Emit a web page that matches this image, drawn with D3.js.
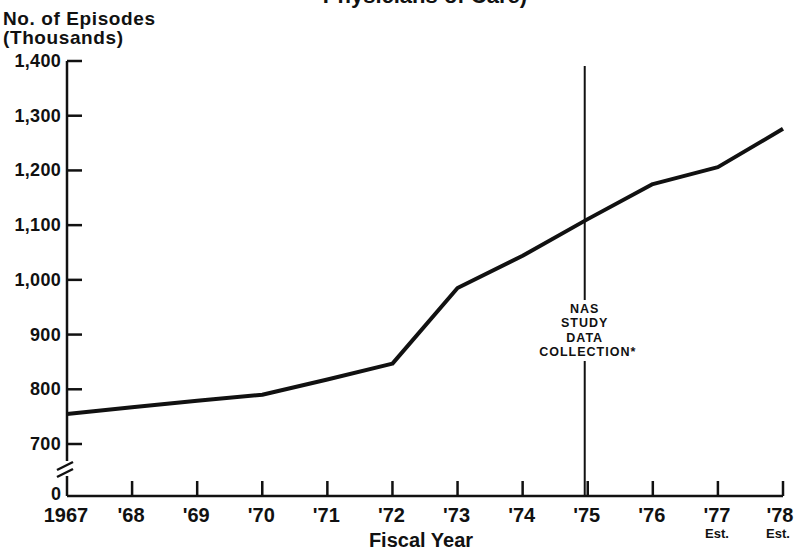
<!DOCTYPE html>
<html>
<head>
<meta charset="utf-8">
<script src="https://cdn.jsdelivr.net/npm/d3@7"></script>
<style>
  body { margin: 0; background: #fff; }
  svg { display: block; }
  text { font-family: "Liberation Sans", Arial, Helvetica, sans-serif; font-weight: bold; fill: #111; }
</style>
</head>
<body>
<div id="chart"></div>
<script>
// Episodes per fiscal year (thousands)
const years = [1967, 1968, 1969, 1970, 1971, 1972, 1973, 1974, 1975, 1976, 1977, 1978];
const episodes = [755, 767, 779, 790, 818, 847, 985, 1044, 1111, 1175, 1206, 1276];
const yearLabels = ['1967', "'68", "'69", "'70", "'71", "'72", "'73", "'74", "'75", "'76", "'77", "'78"];
const estYears = [1977, 1978];
const yTicks = [700, 800, 900, 1000, 1100, 1200, 1300, 1400];
const studyYear = 1975;
const studyLabel = ['NAS', 'STUDY', 'DATA', 'COLLECTION*'];

const width = 796, height = 552;
const ink = '#111';

const svg = d3.select('#chart').append('svg')
  .attr('width', width)
  .attr('height', height);

// x: one slot per fiscal year
const x = d3.scaleLinear().domain([1967, 1978]).range([67, 783]);
// y: broken axis, 0 sits just below the break
const y = d3.scaleLinear().domain([0, 700, 1400]).range([496, 444, 61]);

// title, cut off by the top edge in the scan
svg.append('text')
  .attr('x', 527).attr('y', 3)
  .attr('text-anchor', 'end')
  .style('font-size', '22px')
  .text('Physicians of Care)');

// y axis title
svg.append('text').attr('x', 3).attr('y', 25).style('font-size', '19px')
  .style('letter-spacing', '0.6px').text('No. of Episodes');
svg.append('text').attr('x', 3).attr('y', 44).style('font-size', '19px')
  .style('letter-spacing', '0.6px').text('(Thousands)');

// y axis line with break
const ax = x(1967);
svg.append('line').attr('x1', ax).attr('x2', ax).attr('y1', y(1400)).attr('y2', 461)
  .attr('stroke', ink).attr('stroke-width', 2.5);
svg.append('line').attr('x1', ax).attr('x2', ax).attr('y1', 476).attr('y2', y(0))
  .attr('stroke', ink).attr('stroke-width', 2.5);
[0, 7].forEach(off => {
  svg.append('line')
    .attr('x1', ax - 10).attr('y1', 470 + off)
    .attr('x2', ax + 6).attr('y2', 462 + off)
    .attr('stroke', ink).attr('stroke-width', 2.5);
});

// y ticks and labels
const fmt = d3.format(',');
yTicks.forEach(t => {
  svg.append('line').attr('x1', ax).attr('x2', ax + 15).attr('y1', y(t)).attr('y2', y(t))
    .attr('stroke', ink).attr('stroke-width', 2.5);
  svg.append('text').attr('x', 61).attr('y', y(t) + 6)
    .attr('text-anchor', 'end').style('font-size', '18px')
    .style('letter-spacing', '0.3px')
    .text(fmt(t));
});
svg.append('text').attr('x', 61).attr('y', y(0) + 4)
  .attr('text-anchor', 'end').style('font-size', '18px').text('0');

// x axis
svg.append('line').attr('x1', ax).attr('x2', x(1978)).attr('y1', y(0)).attr('y2', y(0))
  .attr('stroke', ink).attr('stroke-width', 2.5);
years.forEach((yr, i) => {
  if (i > 0) {
    svg.append('line').attr('x1', x(yr)).attr('x2', x(yr)).attr('y1', y(0)).attr('y2', y(0) - 15)
      .attr('stroke', ink).attr('stroke-width', 2.5);
  }
  svg.append('text').attr('x', i === years.length - 1 ? x(yr) - 3 : x(yr) - 1).attr('y', 522)
    .attr('text-anchor', 'middle').style('font-size', '20px')
    .text(yearLabels[i]);
});
estYears.forEach(yr => {
  svg.append('text').attr('x', x(yr) - (yr === 1978 ? 5 : 1)).attr('y', 538)
    .attr('text-anchor', 'middle').style('font-size', '13px').text('Est.');
});
svg.append('text').attr('x', 421).attr('y', 547)
  .attr('text-anchor', 'middle').style('font-size', '20px').text('Fiscal Year');

// study marker line with gap for its label
const sx = x(studyYear) - 3;
svg.append('line').attr('x1', sx).attr('x2', sx).attr('y1', 66).attr('y2', 300)
  .attr('stroke', ink).attr('stroke-width', 2);
svg.append('line').attr('x1', sx).attr('x2', sx).attr('y1', 361).attr('y2', y(0))
  .attr('stroke', ink).attr('stroke-width', 2);
svg.append('text')
  .attr('text-anchor', 'middle')
  .style('font-size', '12.5px')
  .style('letter-spacing', '1px')
  .selectAll('tspan')
  .data(studyLabel)
  .join('tspan')
  .attr('x', (d, i) => sx + (i === 3 ? 3 : 0))
  .attr('y', (d, i) => 313 + i * 14.4)
  .text(d => d);

// data line
const line = d3.line().x((d, i) => x(years[i])).y(d => y(d));
svg.append('path')
  .datum(episodes)
  .attr('d', line)
  .attr('fill', 'none')
  .attr('stroke', ink)
  .attr('stroke-width', 4)
  .attr('stroke-linejoin', 'round');
</script>
</body>
</html>
